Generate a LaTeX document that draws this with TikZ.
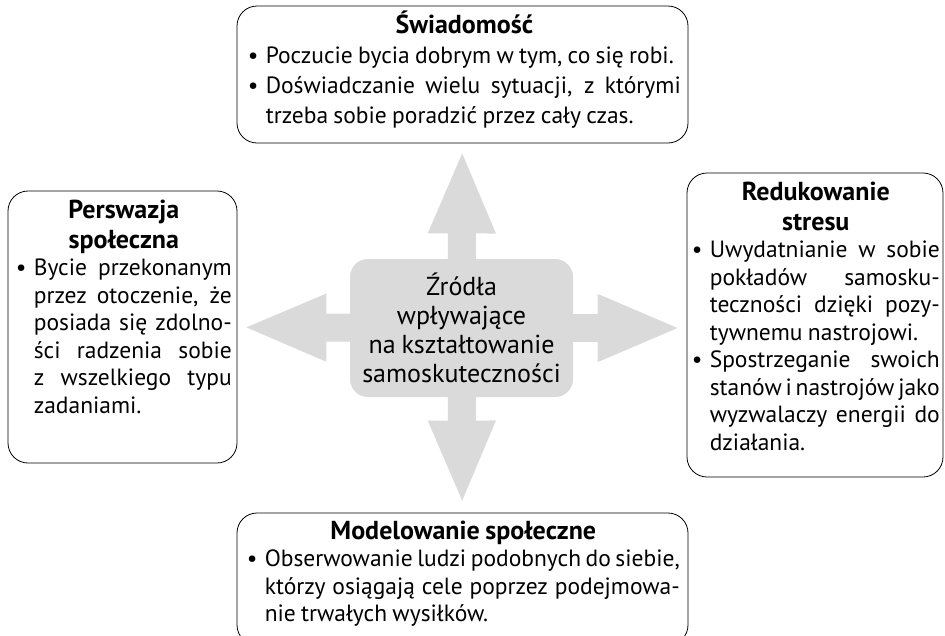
\documentclass[tikz,border=0pt]{standalone}
\usepackage{fontspec}
\setmainfont{PT Sans}[WordSpace={0.85,1,2.5}]
\usetikzlibrary{arrows.meta,backgrounds,positioning}
\definecolor{szary}{RGB}{218,218,218}
\newcommand{\pkt}[1]{\par{\leftskip=18pt\noindent\llap{\makebox[18pt][l]{\textbullet}}#1\par}}
\newcommand{\tytul}[1]{{\centering\fontsize{26}{30}\bfseries\selectfont\rule{0pt}{25pt}#1\par}}
\tolerance=10000
\hbadness=10000
\hfuzz=30pt
\hyphenpenalty=10000

\begin{document}
\begin{tikzpicture}[x=1pt,y=-1pt,
  ramka/.style={draw,line width=0.8pt,rounded corners=20pt},
  tekst/.style={align=justify,inner sep=0pt,font=\fontsize{23.5}{#1}\selectfont},
  srodek/.style={fill=szary,rounded corners=18pt,align=center,minimum width=223pt,minimum height=138pt,font=\fontsize{26}{29}\selectfont},
  strzalka/.style={draw=szary,line width=28pt,-{Triangle[length=84pt,width=61pt]}}]
\useasboundingbox (0,0) rectangle (945,635);
\node[srodek] (zrodla) at (461.5,328) {Źródła\\wpływające\\na kształtowanie\\samoskuteczności};
\node[ramka,minimum width=451pt,minimum height=137pt] (swiad) at (462.5,74.5) {};
\node[ramka,minimum width=229pt,minimum height=272pt] (persw) at (122.5,327) {};
\node[ramka,minimum width=256pt,minimum height=304pt] (stres) at (815,325) {};
\node[ramka,minimum width=451pt,minimum height=132pt] (model) at (462.5,579) {};
\node[tekst=30,text width=433pt,below right=3pt and 11pt of swiad.north west] (swiad-t)
  {\tytul{Świadomość}
   \pkt{Poczucie bycia dobrym w tym, co się robi.}
   \pkt{Doświadczanie wielu sytuacji, z którymi\linebreak trzeba sobie poradzić przez cały czas.}};
\node[tekst=27.5,text width=216pt,below right=2.5pt and 8pt of persw.north west] (persw-t)
  {\tytul{Perswazja\\społeczna}
   \pkt{Bycie przekonanym\linebreak przez otoczenie, że\linebreak posiada się zdolno-\linebreak ści radzenia sobie\linebreak z wszelkiego typu\linebreak zadaniami.}};
\node[tekst=27.5,text width=248pt,below right=2.5pt and 5pt of stres.north west] (stres-t)
  {\tytul{Redukowanie\\stresu}
   \pkt{Uwydatnianie w sobie\linebreak pokładów samosku-\linebreak teczności dzięki pozy-\linebreak tywnemu nastrojowi.}
   \pkt{Spostrzeganie swoich\linebreak stanów~i~nastrojów~jako\linebreak wyzwalaczy energii do\linebreak działania.}};
\node[tekst=27.5,text width=433pt,below right=1.5pt and 10pt of model.north west] (model-t)
  {\tytul{Modelowanie społeczne}
   \pkt{Obserwowanie~ludzi~podobnych~do~siebie,\linebreak którzy osiągają cele poprzez podejmowa-\linebreak nie trwałych wysiłków.}};
\begin{scope}[on background layer]
\draw[strzalka,shorten >=6pt] (zrodla.center) -- (swiad);
\draw[strzalka,shorten >=8pt] (zrodla.center) -- (model);
\draw[strzalka,shorten >=5pt] (zrodla.center) -- (persw);
\draw[strzalka,shorten >=5pt] (zrodla.center) -- (zrodla.center -| stres.west);
\end{scope}
\end{tikzpicture}
\end{document}
